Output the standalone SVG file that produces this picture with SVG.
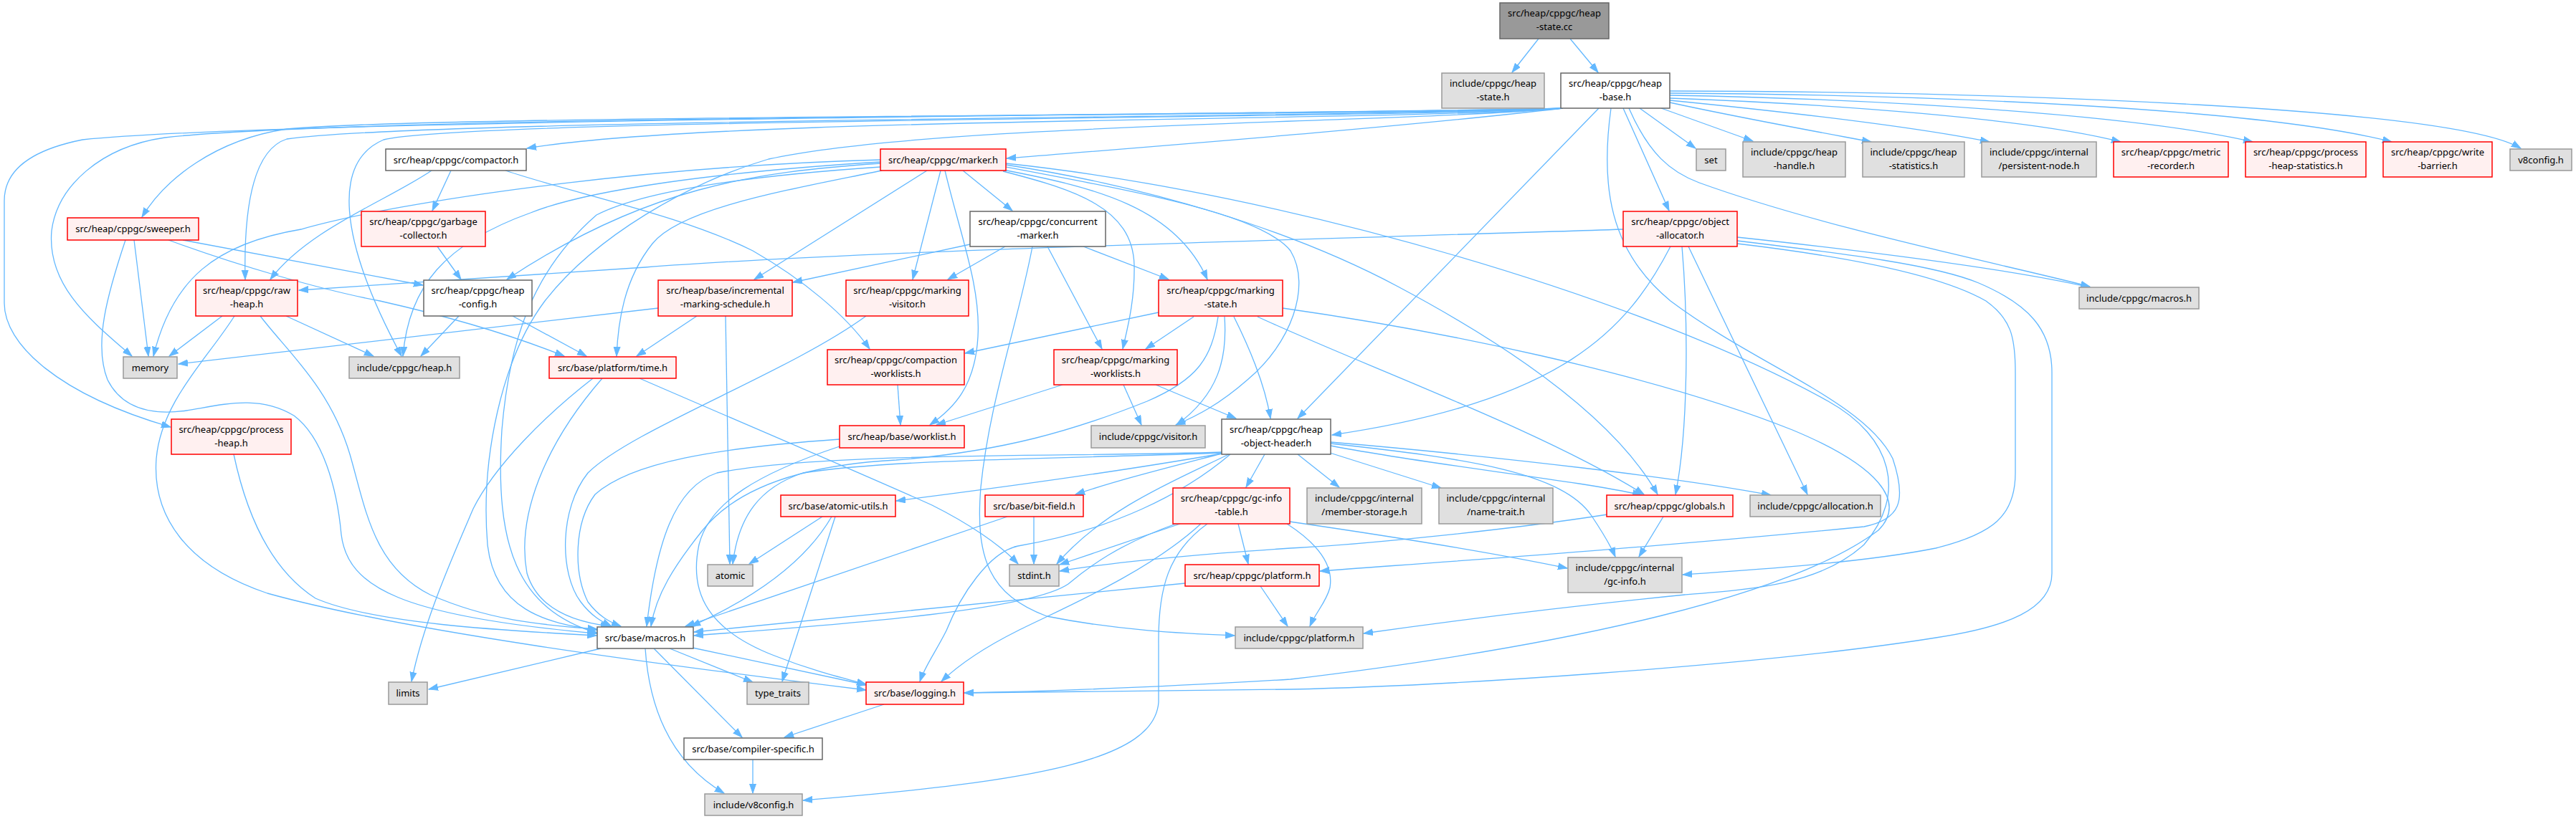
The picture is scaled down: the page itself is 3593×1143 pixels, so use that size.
<svg xmlns="http://www.w3.org/2000/svg" width="3593" height="1143" viewBox="0 0 3593 1143">
<defs>
<marker id="ah" markerWidth="14" markerHeight="11" refX="13" refY="5" orient="auto" markerUnits="userSpaceOnUse" viewBox="0 0 14 11"><path d="M0,0.5 L13,5 L0,9.5 z" fill="#63b8ff" stroke="#63b8ff" stroke-width="1"/></marker>
</defs>
<style>
.e path{fill:none;stroke:#63b8ff;stroke-width:1.3;marker-end:url(#ah)}
.r{fill:#fff0f0;stroke:#ff0000;stroke-width:1.5}
.g{fill:#e0e0e0;stroke:#999999;stroke-width:1.5}
.w{fill:#ffffff;stroke:#666666;stroke-width:1.5}
.k{fill:#999999;stroke:#666666;stroke-width:1.5}
text{font-family:"Noto Sans","DejaVu Sans",sans-serif;font-size:13px;fill:#000000;text-anchor:middle}
</style>
<rect x="0" y="0" width="3593" height="1143" fill="#ffffff"/>
<g id="connectors" class="e">
<path d="M2146,54 L2109,101"/>
<path d="M2190,54 L2229,101"/>
<path d="M2287,151 L2365,207"/>
<path d="M2317,151 L2445,197"/>
<path d="M2329,143 C2420,163 2530,183 2610,198"/>
<path d="M2329,140 C2480,155 2660,175 2775,198"/>
<path d="M2329,137 C2550,145 2830,165 2958,198"/>
<path d="M2329,133 C2620,138 2980,160 3142,198"/>
<path d="M2329,130 C2680,132 3150,150 3336,198"/>
<path d="M2329,127 C2800,128 3420,150 3516,207"/>
<path d="M2272,151 C2300,215 2330,240 2370,255 C2550,320 2800,370 2915,400"/>
<path d="M2264,151 L2328,294"/>
<path d="M2230,151 L1810,584"/>
<path d="M2247,151 C2232,260 2245,350 2330,420 C2450,510 2600,560 2640,640 C2660,700 2650,725 2600,735 C2300,765 2000,785 1841,797"/>
<path d="M2180,151 C1950,178 1600,205 1404,221"/>
<path d="M2180,151 C1950,170 1000,162 735,207"/>
<path d="M2180,151 C1950,162 600,160 400,180 C300,195 230,250 198,303"/>
<path d="M2180,151 C1950,164 600,165 400,194 C350,210 340,300 342,390"/>
<path d="M2180,151 C1950,166 650,165 535,195 C465,225 470,330 560,497"/>
<path d="M2180,151 C1950,160 500,160 230,192 C140,205 80,260 72,322 C65,400 130,450 184,497"/>
<path d="M2180,151 C1950,158 400,165 115,195 C40,210 6,240 6,280 L6,423 C6,480 80,550 238,596"/>
<path d="M2180,151 C1950,172 1300,172 1072,222 C960,255 830,330 760,420 C700,500 670,640 680,760 C690,850 760,870 833,879"/>
<path d="M1343,238 L1412,294"/>
<path d="M1293,238 L1052,390"/>
<path d="M1312,238 L1273,390"/>
<path d="M1399,237 C1530,262 1640,290 1684,390"/>
<path d="M1399,239 C1500,265 1580,290 1582,370 C1583,420 1572,460 1566,487"/>
<path d="M1318,238 C1340,330 1368,400 1364,470 C1360,540 1330,570 1297,593"/>
<path d="M1403,233 C1600,270 1760,300 1800,350 C1830,400 1800,480 1740,530 C1700,565 1670,580 1640,593"/>
<path d="M1403,230 C1600,260 1800,320 1950,400 C2100,480 2250,580 2312,690"/>
<path d="M1403,228 C1800,270 2300,420 2550,560 C2640,610 2660,690 2600,760 C2540,815 2450,822 2350,830 C2150,850 2000,870 1902,884"/>
<path d="M1228,223 C900,232 560,280 420,320 C300,340 240,390 214,497"/>
<path d="M1228,226 C1000,240 820,265 740,297 C620,340 570,400 562,497"/>
<path d="M1228,228 C1050,240 900,262 707,390"/>
<path d="M1230,238 C1100,265 950,290 910,340 C870,390 862,450 860,497"/>
<path d="M1228,233 C1050,245 900,265 832,300 C740,380 710,480 700,600 C690,760 720,850 834,884"/>
<path d="M629,238 L603,294"/>
<path d="M602,238 C540,280 430,320 377,390"/>
<path d="M705,238 C800,270 950,300 1050,350 C1120,390 1180,440 1213,487"/>
<path d="M610,344 L643,390"/>
<path d="M187,335 L207,497"/>
<path d="M255,335 L590,398"/>
<path d="M235,335 C330,370 450,405 530,420 C640,445 720,470 787,497"/>
<path d="M175,335 C150,410 130,480 150,530 C170,570 210,580 260,573 C310,565 360,550 410,580 C450,610 470,680 476,746 C485,820 560,860 832,884"/>
<path d="M310,441 L236,497"/>
<path d="M399,441 L521,497"/>
<path d="M327,441 C290,500 225,560 218,640 C212,720 260,790 373,828 C560,880 900,925 1208,963"/>
<path d="M363,441 C400,490 460,540 488,634 C510,710 520,790 600,830 C680,865 750,872 833,878"/>
<path d="M640,441 L587,497"/>
<path d="M715,441 L818,497"/>
<path d="M918,430 L249,508"/>
<path d="M972,441 L888,497"/>
<path d="M1012,441 L1018,787"/>
<path d="M1208,441 C1100,520 880,600 820,660 C780,710 780,800 810,840 C825,860 840,868 853,874"/>
<path d="M1353,341 L1106,394"/>
<path d="M1402,344 L1322,390"/>
<path d="M1511,344 L1630,390"/>
<path d="M1461,344 L1537,487"/>
<path d="M1440,344 C1420,450 1380,560 1368,680 C1360,780 1380,830 1460,860 C1560,880 1650,884 1722,887"/>
<path d="M1616,436 L1346,493"/>
<path d="M1665,442 L1598,487"/>
<path d="M1708,442 C1712,500 1700,550 1641,593"/>
<path d="M1721,442 C1745,490 1765,540 1772,584"/>
<path d="M1754,442 C1900,510 2150,600 2293,690"/>
<path d="M1699,442 C1690,500 1670,530 1600,560 C1500,600 1400,630 1250,642 C1100,650 1020,690 980,740 C940,790 915,830 908,874"/>
<path d="M1789,430 C2000,460 2300,520 2500,600 C2620,650 2660,700 2620,740 C2500,830 2200,900 1800,948 C1600,960 1450,965 1345,967"/>
<path d="M1482,537 L1306,593"/>
<path d="M1567,537 L1592,593"/>
<path d="M1612,537 L1724,584"/>
<path d="M1252,537 L1256,593"/>
<path d="M1171,613 C1000,625 880,645 830,690 C800,730 800,800 820,840 C835,860 850,868 866,874"/>
<path d="M1171,623 C1060,660 990,700 975,760 C960,830 990,880 1080,915 C1130,935 1170,945 1208,955"/>
<path d="M1810,634 L1868,680"/>
<path d="M1855,632 L2010,681"/>
<path d="M1856,622 C2000,650 2200,670 2290,691"/>
<path d="M1856,617 C2100,638 2350,668 2470,691"/>
<path d="M1856,619 C2050,640 2180,660 2220,720 C2240,750 2248,765 2253,777"/>
<path d="M1764,634 L1738,680"/>
<path d="M1704,633 C1550,660 1400,680 1250,699"/>
<path d="M1704,633 C1620,655 1560,670 1500,690"/>
<path d="M1714,634 C1640,670 1540,710 1474,787"/>
<path d="M1704,632 C1500,640 1250,640 1120,660 C1060,680 1030,720 1022,787"/>
<path d="M1704,631 C1500,638 1150,630 1000,660 C940,680 915,760 902,874"/>
<path d="M1716,634 C1650,690 1550,740 1420,762 C1380,770 1340,830 1320,880 C1305,910 1290,930 1283,951"/>
<path d="M1147,721 L1045,787"/>
<path d="M1160,721 C1120,790 1040,840 964,874"/>
<path d="M1165,721 L1091,951"/>
<path d="M1442,721 L1442,787"/>
<path d="M1405,721 L956,874"/>
<path d="M1646,731 L1478,788"/>
<path d="M1640,731 C1560,760 1520,790 1490,815 C1440,850 1200,870 968,887"/>
<path d="M1675,731 C1600,800 1480,850 1420,880 C1370,905 1335,930 1313,951"/>
<path d="M1684,731 C1630,770 1615,820 1616,900 L1616,980 C1610,1060 1450,1090 1120,1117"/>
<path d="M1727,731 L1741,787"/>
<path d="M1795,731 C1840,760 1860,790 1855,820 C1850,840 1835,855 1827,874"/>
<path d="M1799,728 C1950,750 2100,775 2186,793"/>
<path d="M2320,721 L2286,777"/>
<path d="M2242,718 C2100,740 1900,760 1800,765 C1650,775 1550,785 1478,797"/>
<path d="M1653,814 L968,882"/>
<path d="M1758,818 L1796,874"/>
<path d="M2264,320 C1800,335 1200,350 900,373 C700,385 550,395 417,405"/>
<path d="M2330,344 C2270,460 2180,560 1858,607"/>
<path d="M2346,344 C2355,450 2355,600 2337,690"/>
<path d="M2355,344 L2521,690"/>
<path d="M2423,331 C2600,350 2800,375 2915,401"/>
<path d="M2423,340 C2550,355 2700,380 2770,420 C2805,445 2811,470 2811,520 L2811,660 C2811,720 2780,745 2700,765 C2600,785 2450,795 2347,802"/>
<path d="M2423,336 C2580,355 2700,370 2760,395 C2830,425 2862,460 2862,520 L2862,800 C2862,850 2800,875 2700,890 C2450,930 2000,958 1800,962 C1600,965 1450,966 1345,967"/>
<path d="M838,905 L598,962"/>
<path d="M934,905 L1050,952"/>
<path d="M966,904 L1209,956"/>
<path d="M912,905 L1035,1029"/>
<path d="M900,905 C905,980 930,1060 1010,1107"/>
<path d="M1233,983 L1094,1029"/>
<path d="M1050,1060 L1050,1107"/>
<path d="M827,528 C760,580 690,650 660,710 C630,780 590,870 574,951"/>
<path d="M840,528 C760,620 720,720 735,800 C750,850 800,868 851,874"/>
<path d="M892,528 C1000,575 1200,660 1300,705 C1350,730 1395,760 1420,787"/>
<path d="M326,634 C340,700 370,790 440,835 C520,870 700,880 832,887"/>
</g>
<g id="n_heap_state_cc"><rect class="k" x="2092" y="4" width="152" height="50"/><text x="2168" y="22.5">src/heap/cppgc/heap</text><text x="2168" y="41.5">-state.cc</text></g>
<g id="n_heap_state_h"><rect class="g" x="2011" y="102" width="143" height="49"/><text x="2082.5" y="120.5">include/cppgc/heap</text><text x="2082.5" y="139.5">-state.h</text></g>
<g id="n_heap_base"><rect class="w" x="2177" y="102" width="152" height="49"/><text x="2253" y="120.5">src/heap/cppgc/heap</text><text x="2253" y="139.5">-base.h</text></g>
<g id="n_compactor"><rect class="w" x="538" y="208" width="196" height="30"/><text x="636" y="227.5">src/heap/cppgc/compactor.h</text></g>
<g id="n_marker"><rect class="r" x="1228" y="208" width="175" height="30"/><text x="1315.5" y="227.5">src/heap/cppgc/marker.h</text></g>
<g id="n_set"><rect class="g" x="2366" y="208" width="41" height="30"/><text x="2386.5" y="227.5">set</text></g>
<g id="n_heap_handle"><rect class="g" x="2431" y="198" width="143" height="49"/><text x="2502.5" y="216.5">include/cppgc/heap</text><text x="2502.5" y="235.5">-handle.h</text></g>
<g id="n_heap_statistics"><rect class="g" x="2598" y="198" width="142" height="49"/><text x="2669" y="216.5">include/cppgc/heap</text><text x="2669" y="235.5">-statistics.h</text></g>
<g id="n_persistent_node"><rect class="g" x="2764" y="198" width="160" height="49"/><text x="2844" y="216.5">include/cppgc/internal</text><text x="2844" y="235.5">/persistent-node.h</text></g>
<g id="n_metric_recorder"><rect class="r" x="2948" y="198" width="160" height="49"/><text x="3028" y="216.5">src/heap/cppgc/metric</text><text x="3028" y="235.5">-recorder.h</text></g>
<g id="n_process_heap_statistics"><rect class="r" x="3132" y="198" width="168" height="49"/><text x="3216" y="216.5">src/heap/cppgc/process</text><text x="3216" y="235.5">-heap-statistics.h</text></g>
<g id="n_write_barrier"><rect class="r" x="3324" y="198" width="152" height="49"/><text x="3400" y="216.5">src/heap/cppgc/write</text><text x="3400" y="235.5">-barrier.h</text></g>
<g id="n_v8config"><rect class="g" x="3501" y="208" width="86" height="30"/><text x="3544" y="227.5">v8config.h</text></g>
<g id="n_sweeper"><rect class="r" x="94" y="304" width="183" height="31"/><text x="185.5" y="324">src/heap/cppgc/sweeper.h</text></g>
<g id="n_garbage_collector"><rect class="r" x="504" y="295" width="173" height="49"/><text x="590.5" y="313.5">src/heap/cppgc/garbage</text><text x="590.5" y="332.5">-collector.h</text></g>
<g id="n_concurrent_marker"><rect class="w" x="1353" y="295" width="189" height="49"/><text x="1447.5" y="313.5">src/heap/cppgc/concurrent</text><text x="1447.5" y="332.5">-marker.h</text></g>
<g id="n_object_allocator"><rect class="r" x="2264" y="295" width="159" height="49"/><text x="2343.5" y="313.5">src/heap/cppgc/object</text><text x="2343.5" y="332.5">-allocator.h</text></g>
<g id="n_raw_heap"><rect class="r" x="273" y="391" width="142" height="50"/><text x="344" y="409.5">src/heap/cppgc/raw</text><text x="344" y="428.5">-heap.h</text></g>
<g id="n_heap_config"><rect class="w" x="591" y="391" width="151" height="50"/><text x="666.5" y="409.5">src/heap/cppgc/heap</text><text x="666.5" y="428.5">-config.h</text></g>
<g id="n_incremental"><rect class="r" x="918" y="391" width="187" height="50"/><text x="1011.5" y="409.5">src/heap/base/incremental</text><text x="1011.5" y="428.5">-marking-schedule.h</text></g>
<g id="n_marking_visitor"><rect class="r" x="1180" y="391" width="171" height="50"/><text x="1265.5" y="409.5">src/heap/cppgc/marking</text><text x="1265.5" y="428.5">-visitor.h</text></g>
<g id="n_marking_state"><rect class="r" x="1616" y="391" width="173" height="50"/><text x="1702.5" y="409.5">src/heap/cppgc/marking</text><text x="1702.5" y="428.5">-state.h</text></g>
<g id="n_cppgc_macros"><rect class="g" x="2900" y="401" width="167" height="30"/><text x="2983.5" y="420.5">include/cppgc/macros.h</text></g>
<g id="n_memory"><rect class="g" x="172" y="498" width="75" height="30"/><text x="209.5" y="517.5">memory</text></g>
<g id="n_heap_h"><rect class="g" x="487" y="498" width="154" height="30"/><text x="564" y="517.5">include/cppgc/heap.h</text></g>
<g id="n_time"><rect class="r" x="766" y="498" width="177" height="30"/><text x="854.5" y="517.5">src/base/platform/time.h</text></g>
<g id="n_compaction_worklists"><rect class="r" x="1154" y="488" width="191" height="49"/><text x="1249.5" y="506.5">src/heap/cppgc/compaction</text><text x="1249.5" y="525.5">-worklists.h</text></g>
<g id="n_marking_worklists"><rect class="r" x="1470" y="488" width="172" height="49"/><text x="1556" y="506.5">src/heap/cppgc/marking</text><text x="1556" y="525.5">-worklists.h</text></g>
<g id="n_process_heap"><rect class="r" x="239" y="585" width="167" height="49"/><text x="322.5" y="603.5">src/heap/cppgc/process</text><text x="322.5" y="622.5">-heap.h</text></g>
<g id="n_worklist"><rect class="r" x="1171" y="594" width="174" height="31"/><text x="1258" y="614">src/heap/base/worklist.h</text></g>
<g id="n_visitor"><rect class="g" x="1522" y="594" width="159" height="31"/><text x="1601.5" y="614">include/cppgc/visitor.h</text></g>
<g id="n_heap_object_header"><rect class="w" x="1704" y="585" width="152" height="49"/><text x="1780" y="603.5">src/heap/cppgc/heap</text><text x="1780" y="622.5">-object-header.h</text></g>
<g id="n_atomic_utils"><rect class="r" x="1089" y="691" width="160" height="30"/><text x="1169" y="710.5">src/base/atomic-utils.h</text></g>
<g id="n_bit_field"><rect class="r" x="1374" y="691" width="137" height="30"/><text x="1442.5" y="710.5">src/base/bit-field.h</text></g>
<g id="n_gc_info_table"><rect class="r" x="1636" y="681" width="163" height="50"/><text x="1717.5" y="699.5">src/heap/cppgc/gc-info</text><text x="1717.5" y="718.5">-table.h</text></g>
<g id="n_member_storage"><rect class="g" x="1823" y="681" width="160" height="50"/><text x="1903" y="699.5">include/cppgc/internal</text><text x="1903" y="718.5">/member-storage.h</text></g>
<g id="n_name_trait"><rect class="g" x="2007" y="681" width="159" height="50"/><text x="2086.5" y="699.5">include/cppgc/internal</text><text x="2086.5" y="718.5">/name-trait.h</text></g>
<g id="n_globals"><rect class="r" x="2241" y="691" width="176" height="30"/><text x="2329" y="710.5">src/heap/cppgc/globals.h</text></g>
<g id="n_allocation"><rect class="g" x="2441" y="691" width="182" height="30"/><text x="2532" y="710.5">include/cppgc/allocation.h</text></g>
<g id="n_atomic"><rect class="g" x="987" y="788" width="63" height="30"/><text x="1018.5" y="807.5">atomic</text></g>
<g id="n_stdint"><rect class="g" x="1408" y="788" width="69" height="30"/><text x="1442.5" y="807.5">stdint.h</text></g>
<g id="n_src_platform"><rect class="r" x="1653" y="788" width="187" height="30"/><text x="1746.5" y="807.5">src/heap/cppgc/platform.h</text></g>
<g id="n_gc_info"><rect class="g" x="2187" y="778" width="159" height="49"/><text x="2266.5" y="796.5">include/cppgc/internal</text><text x="2266.5" y="815.5">/gc-info.h</text></g>
<g id="n_base_macros"><rect class="w" x="833" y="875" width="134" height="30"/><text x="900" y="894.5">src/base/macros.h</text></g>
<g id="n_include_platform"><rect class="g" x="1723" y="875" width="178" height="30"/><text x="1812" y="894.5">include/cppgc/platform.h</text></g>
<g id="n_limits"><rect class="g" x="542" y="952" width="54" height="31"/><text x="569" y="972">limits</text></g>
<g id="n_type_traits"><rect class="g" x="1042" y="952" width="86" height="31"/><text x="1085" y="972">type_traits</text></g>
<g id="n_logging"><rect class="r" x="1208" y="952" width="136" height="31"/><text x="1276" y="972">src/base/logging.h</text></g>
<g id="n_compiler_specific"><rect class="w" x="954" y="1030" width="193" height="30"/><text x="1050.5" y="1049.5">src/base/compiler-specific.h</text></g>
<g id="n_include_v8config"><rect class="g" x="983" y="1108" width="136" height="30"/><text x="1051" y="1127.5">include/v8config.h</text></g>
</svg>
